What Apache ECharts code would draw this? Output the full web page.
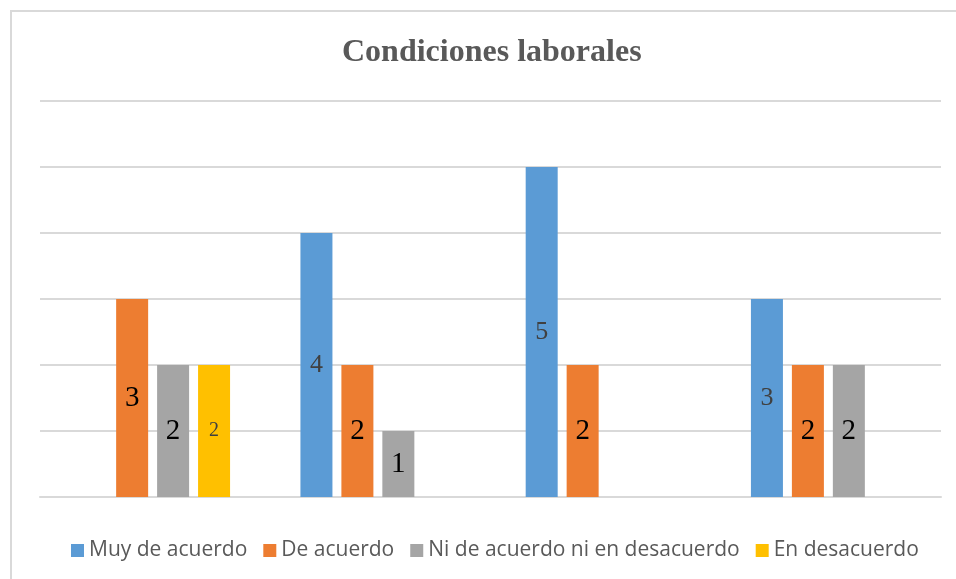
<!DOCTYPE html>
<html><head><meta charset="utf-8">
<script src="https://cdn.jsdelivr.net/npm/echarts@6/dist/echarts.min.js"></script>
<style>html,body{margin:0;padding:0;background:#fff}#c{width:956px;height:579px}</style>
</head><body><div id="c"></div>
<script>
const categories = ['1', '2', '3', '4'];
const seriesNames = ['Muy de acuerdo', 'De acuerdo', 'Ni de acuerdo ni en desacuerdo', 'En desacuerdo'];
const muyDeAcuerdo = [null, 4, 5, 3];
const deAcuerdo = [3, 2, 2, 2];
const niDeAcuerdo = [2, 1, null, 2];
const enDesacuerdo = [2, null, null, null];
const colors = ['#5b9bd5', '#ed7d31', '#a5a5a5', '#ffc000'];
const labelColors = ['#404040', '#000000', '#000000', '#404040'];
const labelSizes = [26, 29, 29, 20];
const allData = [muyDeAcuerdo, deAcuerdo, niDeAcuerdo, enDesacuerdo];

const chart = echarts.init(document.getElementById('c'), null, {renderer: 'canvas'});
chart.setOption({
  animation: false,
  graphic: [{type: 'rect', shape: {x: 11, y: 11, width: 960, height: 580},
    style: {fill: 'none', stroke: '#d9d9d9', lineWidth: 2}}],
  title: {text: 'Condiciones laborales', left: 337, top: 32,
    textStyle: {fontFamily: 'Liberation Serif', fontWeight: 'bold', fontSize: 32, color: '#595959'}},
  legend: {top: 535, left: 66, itemWidth: 13, itemHeight: 13, itemGap: 16,
    icon: 'rect',
    textStyle: {fontFamily: 'Open Sans', fontSize: 21, color: '#595959'},
    data: seriesNames},
  grid: {left: 40, right: 15, top: 101, bottom: 82},
  xAxis: {type: 'category', data: categories,
    axisLine: {lineStyle: {color: '#d9d9d9', width: 2}},
    axisTick: {show: false}, axisLabel: {show: false}},
  yAxis: {type: 'value', min: 0, max: 6, interval: 1,
    axisLabel: {show: false}, axisLine: {show: false}, axisTick: {show: false},
    splitLine: {lineStyle: {color: '#d9d9d9', width: 2}}},
  series: seriesNames.map((n, i) => ({
    name: n, type: 'bar', data: allData[i], barWidth: 32, barGap: '28%',
    itemStyle: {color: colors[i]},
    label: {show: true, position: 'inside', formatter: '{v|{c}}',
      rich: {v: {color: labelColors[i], fontSize: labelSizes[i], fontFamily: 'Liberation Serif'}}}
  }))
});
</script></body></html>
